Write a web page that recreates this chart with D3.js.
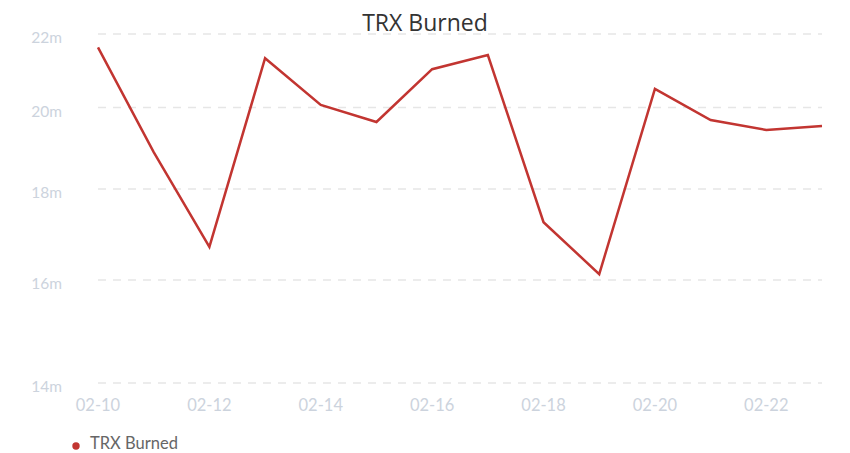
<!DOCTYPE html>
<html><head><meta charset="utf-8">
<script src="https://cdn.jsdelivr.net/npm/d3@7"></script>
<style>body{margin:0;background:#fff;font-family:Lato,sans-serif}</style>
</head><body>
<svg id="c" width="850" height="453"></svg>
<script>
const dates = ["02-10","02-11","02-12","02-13","02-14","02-15","02-16","02-17","02-18","02-19","02-20","02-21","02-22","02-23"];
const burned = [21.62,18.88,16.70,21.32,20.07,19.63,21.02,21.41,17.24,16.12,20.49,19.68,19.43,19.53];
const yTicks = [14,16,18,20,22];
const xTickLabels = ["02-10","02-12","02-14","02-16","02-18","02-20","02-22"];

const svg = d3.select("#c");
const x = d3.scalePoint().domain(dates).range([98,822]);
const y = d3.scaleLog().domain([14,22]).range([383,34]);

svg.append("g").selectAll("line").data(yTicks).join("line")
  .attr("x1",98).attr("x2",822).attr("y1",d=>y(d)).attr("y2",d=>y(d))
  .attr("stroke","#e6e6e6").attr("stroke-width",1.5).attr("stroke-dasharray","8,7");

svg.append("g").selectAll("text").data(yTicks).join("text")
  .attr("x",62).attr("y",d=>y(d)+9).attr("text-anchor","end")
  .attr("fill","#ccd3dd").attr("font-size",15.5).text(d=>d+"m");

svg.append("g").selectAll("text").data(xTickLabels).join("text")
  .attr("x",d=>x(d)).attr("y",411).attr("text-anchor","middle")
  .attr("fill","#ccd3dd").attr("font-size",16.5).text(d=>d);

const line = d3.line().x((d,i)=>x(dates[i])).y(d=>y(d));
svg.append("path").datum(burned).attr("d",line).attr("fill","none")
  .attr("stroke","#c23531").attr("stroke-width",2.5).attr("stroke-linejoin","miter");

svg.append("text").attr("x",425).attr("y",31).attr("text-anchor","middle")
  .attr("fill","#333").attr("font-family","'Open Sans',sans-serif").attr("font-size",23).text("TRX Burned");

svg.append("circle").attr("cx",76).attr("cy",446).attr("r",3.7).attr("fill","#c23531");
svg.append("text").attr("x",90).attr("y",449).attr("fill","#666").attr("font-size",16.5).text("TRX Burned");
</script>
</body></html>
